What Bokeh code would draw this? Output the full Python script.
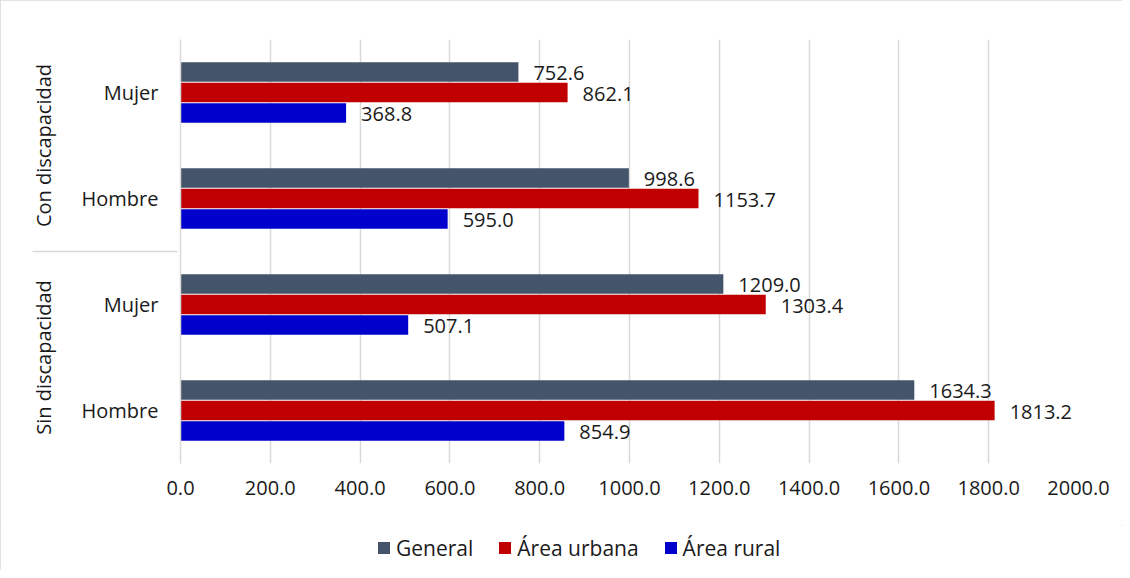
from bokeh.plotting import figure
from bokeh.layouts import column
from bokeh.models import (ColumnDataSource, FactorRange, Range1d, FixedTicker,
                          NumeralTickFormatter, Legend, LegendItem)
from bokeh.transform import dodge
from bokeh.core.properties import value
from bokeh.embed import file_html
from bokeh.resources import INLINE

# ---- data (top-to-bottom reading order) ----
groups = ["Con discapacidad", "Con discapacidad", "Sin discapacidad", "Sin discapacidad"]
sexes = ["Mujer", "Hombre", "Mujer", "Hombre"]
general = [752.6, 998.6, 1209.0, 1634.3]
urbana = [862.1, 1153.7, 1303.4, 1813.2]
rural = [368.8, 595.0, 507.1, 854.9]
series_names = ["General", "Área urbana", "Área rural"]
series_colors = ["#44546A", "#C00000", "#0000CC"]
x_ticks = [0, 200, 400, 600, 800, 1000, 1200, 1400, 1600, 1800, 2000]

cats = list(zip(groups, sexes))
factors = cats[::-1]  # bokeh draws from bottom

src = ColumnDataSource(dict(
    cat=cats,
    general=general, urbana=urbana, rural=rural,
    general_lbl=[f"{v:.1f}" for v in general],
    urbana_lbl=[f"{v:.1f}" for v in urbana],
    rural_lbl=[f"{v:.1f}" for v in rural],
))

FONT = "Open Sans"
TXT = "#1a1a1a"

p = figure(width=1122, height=525,
           y_range=FactorRange(factors=factors, range_padding=0, group_padding=0,
                               factor_padding=0),
           x_range=Range1d(0, 2000),
           output_backend="svg", toolbar_location=None,
           min_border_left=180, min_border_right=44, min_border_top=39,
           min_border_bottom=62)
p.outline_line_color = None
p.background_fill_color = "white"
p.border_fill_color = "white"

keys = ["general", "urbana", "rural"]
offsets = [0.193, 0.0, -0.193]
for key, color, off in zip(keys, series_colors, offsets):
    p.hbar(y=dodge("cat", off, range=p.y_range), left=0, right=key, height=0.185,
           source=src, fill_color=color, line_color=None)
    p.text(x=key, y=dodge("cat", off, range=p.y_range), text=key + "_lbl", source=src,
           x_offset=15, y_offset=1, text_baseline="middle", text_align="left",
           text_font=value(FONT), text_font_size="20px", text_color=TXT)

# x axis
xa = p.xaxis[0]
xa.ticker = FixedTicker(ticks=x_ticks)
xa.formatter = NumeralTickFormatter(format="0.0")
xa.axis_line_color = None
xa.major_tick_line_color = None
xa.minor_tick_line_color = None
xa.major_tick_out = 0
xa.major_label_standoff = 17
xa.major_label_text_font = FONT
xa.major_label_text_font_size = "20px"
xa.major_label_text_color = TXT

# y axis
ya = p.yaxis[0]
ya.axis_line_color = "#D9D9D9"
ya.axis_line_width = 1.5
ya.major_tick_line_color = None
ya.minor_tick_line_color = None
ya.major_tick_out = 0
ya.major_label_standoff = 22
ya.major_label_text_font = FONT
ya.major_label_text_font_size = "20px"
ya.major_label_text_color = TXT
ya.group_text_font = FONT
ya.group_text_font_size = "20px"
ya.group_text_color = TXT
ya.group_text_font_style = "normal"
ya.separator_line_color = "#D9D9D9"
ya.separator_line_width = 1.5

p.xgrid.grid_line_color = "#D9D9D9"
p.xgrid.grid_line_width = 1.5
p.ygrid.grid_line_color = None

# ---- legend strip below the chart (zero-size proxy glyphs carry the colours) ----
lg = figure(width=1122, height=45, output_backend="svg", toolbar_location=None,
            x_range=Range1d(0, 1), y_range=Range1d(0, 1),
            x_axis_location=None, y_axis_location=None, min_border=0)
lg.outline_line_color = None
lg.grid.grid_line_color = None
items = []
for name, color in zip(series_names, series_colors):
    r = lg.hbar(y=[0], left=[0], right=[0], height=0, fill_color=color, line_color=None)
    items.append(LegendItem(label=name, renderers=[r]))
legend = Legend(items=items, orientation="horizontal", location="left", margin=196,
                glyph_width=15, glyph_height=15, label_standoff=5, spacing=24,
                padding=0, border_line_color=None, background_fill_alpha=0,
                label_text_font=FONT, label_text_font_size="21px", label_text_color=TXT)
lg.add_layout(legend, "center")

layout = column(p, lg, spacing=0,
                styles={"outline": "1px solid #D9D9D9", "outline-offset": "-1px"})

open("out.html", "w").write(file_html(layout, INLINE))
